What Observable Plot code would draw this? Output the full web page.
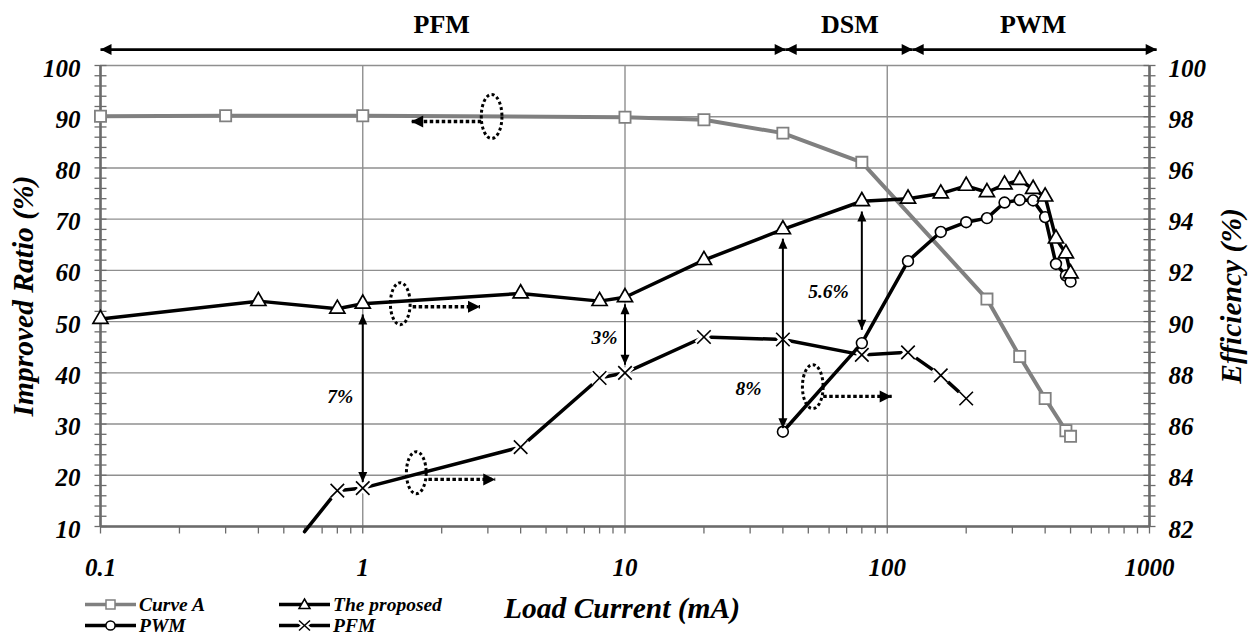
<!DOCTYPE html>
<html><head><meta charset="utf-8">
<script src="https://cdn.jsdelivr.net/npm/d3@7"></script>
<script src="https://cdn.jsdelivr.net/npm/@observablehq/plot@0.6"></script>
<style>
body{margin:0;background:#fff;}
#wrap{position:relative;width:1248px;height:635px;overflow:hidden;}
.lg{position:absolute;display:flex;align-items:center;font-family:"Liberation Serif","DejaVu Serif",serif;font-weight:bold;font-style:italic;font-size:19.5px;line-height:17px;white-space:nowrap;}
.lg svg{margin-right:3px;}
</style></head><body><div id="wrap"></div>
<script>
// ---------- data ----------
const curveA_x     = [0.1, 0.3, 1, 10, 20, 40, 80, 240, 320, 400, 480, 500];
const curveA_ratio = [90.1, 90.2, 90.2, 89.9, 89.4, 86.8, 81.1, 54.4, 43.2, 35.0, 28.7, 27.6];

const proposed_x   = [0.1, 0.4, 0.8, 1, 4, 8, 10, 20, 40, 80, 120, 160, 200, 240, 280, 320, 360, 400, 440, 480, 500];
const proposed_eff = [90.1, 90.8, 90.5, 90.7, 91.1, 90.8, 90.95, 92.4, 93.6, 94.7, 94.8, 95.0, 95.3, 95.05, 95.35, 95.53, 95.18, 94.88, 93.24, 92.66, 91.88];

const pwm_x   = [40, 80, 120, 160, 200, 240, 280, 320, 360, 400, 440, 480, 500];
const pwm_eff = [85.7, 89.16, 92.36, 93.5, 93.88, 94.04, 94.65, 94.75, 94.73, 94.08, 92.25, 91.8, 91.56];

const pfm_x   = [0.6, 0.8, 1, 4, 8, 10, 20, 40, 80, 120, 160, 200];
const pfm_eff = [81.8, 83.4, 83.5, 85.1, 87.8, 88.0, 89.4, 89.3, 88.7, 88.8, 87.9, 87.0];

// axes / ticks
const ratioTicks = [10, 20, 30, 40, 50, 60, 70, 80, 90, 100];
const effTicks   = [82, 84, 86, 88, 90, 92, 94, 96, 98, 100];
const xTickLabels = [0.1, 1, 10, 100, 1000];
const xMinor = [2, 3, 4, 5, 6, 7, 8, 9];

// annotations: operating modes on top
const modeNames = ["PFM", "DSM", "PWM"];
const modeLabelX = [2, 72, 360];
const modeStart = [0.1, 41, 125];
const modeEnd   = [41, 125, 1065];
const modeArrowY = 103.1;
const modeLabelY = 108;

// efficiency gaps (vertical double arrows)
const gapX      = [1, 10, 40, 80];
const gapTop    = [51.4, 53.4, 66.2, 71.5];
const gapBottom = [18.7, 41.6, 29.2, 48.4];
const gapText   = ["7%", "3%", "8%", "5.6%"];
const gapTextX  = [0.82, 8.35, 29.6, 59.7];
const gapTextY  = [35.4, 46.9, 36.9, 55.9];

// dotted ellipses + axis-pointing arrows
const ovalX = [3.1, 1.39, 1.6, 52];
const ovalY = [90.05, 53.5, 20.5, 37.3];
const ovalR = [22, 21, 21, 22];
const hintStart = [2.83, 1.55, 1.78, 57];
const hintEnd   = [1.53, 2.8, 3.2, 104];
const hintY     = [89.07, 52.9, 19.2, 35.4];

// ---------- helpers ----------
const effToRatio = e => 10 + (e - 82) * 5;

const curveA = curveA_x.map((x, i) => ({x, y: curveA_ratio[i]}));
const proposed = proposed_x.map((x, i) => ({x, y: effToRatio(proposed_eff[i])}));
const pwm = pwm_x.map((x, i) => ({x, y: effToRatio(pwm_eff[i])}));
const pfm = pfm_x.map((x, i) => ({x, y: effToRatio(pfm_eff[i])}));
const pfmVisible = pfm.filter(d => d.y >= 10);

const decades = xTickLabels;
const xTicksAll = decades.slice(0, -1).flatMap(d => [d, ...xMinor.map(m => d * m)]).concat([1000]);
const yMinor = d3.range(10, 100.01, 2);
const effTickRows = effTicks.map(e => ({y: effToRatio(e), t: String(e)}));

const modes = modeNames.map((name, i) => ({name, lx: modeLabelX[i], x1: modeStart[i], x2: modeEnd[i]}));
const gaps = gapX.map((x, i) => ({x, y1: gapTop[i], y2: gapBottom[i], t: gapText[i], tx: gapTextX[i], ty: gapTextY[i]}));
const ovals = ovalX.map((x, i) => ({x, y: ovalY[i], r: ovalR[i]}));
const hints = hintStart.map((x1, i) => ({x1, x2: hintEnd[i], y: hintY[i]}));

// custom symbols (tip of arrowheads at the anchor point)
const headSym = (dir, len, half) => ({draw(ctx) {
  const p = {
    right: [[0, 0], [-len, -half], [-len, half]],
    left:  [[0, 0], [len, -half], [len, half]],
    up:    [[0, 0], [-half, len], [half, len]],
    down:  [[0, 0], [-half, -len], [half, -len]]
  }[dir];
  ctx.moveTo(p[0][0], p[0][1]); ctx.lineTo(p[1][0], p[1][1]); ctx.lineTo(p[2][0], p[2][1]); ctx.closePath();
}});
const hTick = (a, b) => ({draw(ctx) { ctx.moveTo(a, 0); ctx.lineTo(b, 0); }});
const vTick = (a, b) => ({draw(ctx) { ctx.moveTo(0, a); ctx.lineTo(0, b); }});
const ovalSymbol = {draw(ctx, size) {
  const ry = Math.sqrt(size / Math.PI), rx = ry * 0.47, k = 0.5523;
  ctx.moveTo(rx, 0);
  ctx.bezierCurveTo(rx, k * ry, k * rx, ry, 0, ry);
  ctx.bezierCurveTo(-k * rx, ry, -rx, k * ry, -rx, 0);
  ctx.bezierCurveTo(-rx, -k * ry, -k * rx, -ry, 0, -ry);
  ctx.bezierCurveTo(k * rx, -ry, rx, -k * ry, rx, 0);
  ctx.closePath();
}};

const GRID = "#8f8f8f", AXIS = "#6b6b6b", GRAY = "#808080";
const X0 = 0.1, X1 = 1000, Y0 = 10;
const FONT = "'Liberation Serif','DejaVu Serif',serif";

const chart = Plot.plot({
  width: 1248, height: 635,
  marginLeft: 100, marginRight: 99, marginTop: 65, marginBottom: 109,
  x: {type: "log", domain: [X0, X1], axis: null},
  y: {domain: [10, 100], axis: null},
  r: {type: "identity"},
  style: {fontFamily: FONT, fontSize: "25px", fontWeight: "bold", fontStyle: "italic", color: "black", background: "white", overflow: "visible"},
  marks: [
    // grid
    Plot.ruleY(ratioTicks, {y: d => d, stroke: GRID, strokeWidth: 1.4}),
    Plot.ruleX(decades, {x: d => d, stroke: GRID, strokeWidth: 1.4}),
    // axis lines
    Plot.ruleX([X0, X1], {x: d => d, stroke: AXIS, strokeWidth: 2.6}),
    Plot.ruleY([Y0], {y: d => d, stroke: AXIS, strokeWidth: 2.6}),
    // tick marks
    Plot.dot(yMinor, {x: () => X0, y: d => d, symbol: hTick(-6, 6), r: 1, stroke: AXIS, strokeWidth: 1.3, fill: "none"}),
    Plot.dot(yMinor, {x: () => X1, y: d => d, symbol: hTick(-6, 6), r: 1, stroke: AXIS, strokeWidth: 1.3, fill: "none"}),
    Plot.dot(xTicksAll, {x: d => d, y: () => Y0, symbol: vTick(0, 7), r: 1, stroke: AXIS, strokeWidth: 1.3, fill: "none"}),
    // tick labels
    Plot.text(ratioTicks, {x: () => X0, y: d => d, text: d => String(d), dx: -20, dy: 3, textAnchor: "end", fontFamily: FONT}),
    Plot.text(effTickRows, {x: () => X1, y: "y", text: "t", dx: 19, dy: 3, textAnchor: "start", fontFamily: FONT}),
    Plot.text(xTickLabels, {x: d => d, y: () => Y0, text: d => String(d), dy: 41, fontFamily: FONT}),
    // axis titles
    Plot.text(["Improved Ratio (%)"], {frameAnchor: "left", dx: -77, rotate: -90, textAnchor: "middle", fontSize: 29.5, fontFamily: FONT}),
    Plot.text(["Efficiency (%)"], {frameAnchor: "right", dx: 82, rotate: -90, textAnchor: "middle", fontSize: 29.5, fontFamily: FONT}),
    Plot.text(["Load Current (mA)"], {frameAnchor: "bottom", dy: 91, dx: -3, textAnchor: "middle", fontSize: 29.5, fontFamily: FONT}),

    // Curve A
    Plot.line(curveA, {x: "x", y: "y", stroke: GRAY, strokeWidth: 4}),
    Plot.dot(curveA, {x: "x", y: "y", symbol: "square", r: 6.3, fill: "white", stroke: GRAY, strokeWidth: 1.8}),
    // PFM
    Plot.line(pfm, {x: "x", y: "y", stroke: "black", strokeWidth: 3.5}),
    Plot.dot(pfmVisible, {x: "x", y: "y", symbol: "times", r: 6.2, stroke: "white", strokeWidth: 7}),
    Plot.dot(pfmVisible, {x: "x", y: "y", symbol: "times", r: 6.2, stroke: "black", strokeWidth: 1.6}),
    // PWM
    Plot.line(pwm, {x: "x", y: "y", stroke: "black", strokeWidth: 3.5}),
    Plot.dot(pwm, {x: "x", y: "y", r: 5.4, fill: "white", stroke: "black", strokeWidth: 1.6}),
    // The proposed
    Plot.line(proposed, {x: "x", y: "y", stroke: "black", strokeWidth: 3.5}),
    Plot.dot(proposed, {x: "x", y: "y", symbol: "triangle", r: 5.6, fill: "white", stroke: "black", strokeWidth: 1.7}),

    // mode arrows on top
    Plot.link(modes, {x1: "x1", x2: "x2", y1: () => modeArrowY, y2: () => modeArrowY, stroke: "black", strokeWidth: 2.6}),
    Plot.dot(modes, {x: "x1", y: () => modeArrowY, symbol: headSym("left", 11, 5.5), r: 5, fill: "black", stroke: "none"}),
    Plot.dot(modes, {x: "x2", y: () => modeArrowY, symbol: headSym("right", 11, 5.5), r: 5, fill: "black", stroke: "none"}),
    Plot.text(modes, {x: "lx", y: () => modeLabelY, text: "name", fontSize: 26, fontStyle: "normal", fontWeight: "bold", fontFamily: FONT}),

    // efficiency gap arrows
    Plot.link(gaps, {x1: "x", x2: "x", y1: "y1", y2: "y2", stroke: "black", strokeWidth: 2}),
    Plot.dot(gaps, {x: "x", y: "y1", symbol: headSym("up", 10, 4.5), r: 5, fill: "black", stroke: "none"}),
    Plot.dot(gaps, {x: "x", y: "y2", symbol: headSym("down", 10, 4.5), r: 5, fill: "black", stroke: "none"}),
    Plot.text(gaps, {x: "tx", y: "ty", text: "t", fontSize: 19.5, fontFamily: FONT}),

    // dotted ellipses and hint arrows
    Plot.dot(ovals, {x: "x", y: "y", r: "r", symbol: ovalSymbol, fill: "none", stroke: "black", strokeWidth: 3, strokeDasharray: "3,2.6"}),
    Plot.link(hints, {x1: "x1", x2: "x2", y1: "y", y2: "y", stroke: "black", strokeWidth: 3.4, strokeDasharray: "3.5,2.5"}),
    Plot.dot(hints.filter(h => h.x2 > h.x1), {x: "x2", y: "y", symbol: headSym("right", 12, 6), r: 5, fill: "black", stroke: "none"}),
    Plot.dot(hints.filter(h => h.x2 < h.x1), {x: "x2", y: "y", symbol: headSym("left", 12, 6), r: 5, fill: "black", stroke: "none"})
  ]
});
chart.style.position = "absolute";
chart.style.left = "0px";
chart.style.top = "0px";
const wrap = document.getElementById("wrap");
wrap.appendChild(chart);

// ---------- legend ----------
const legendItems = [
  {label: "Curve A", color: GRAY, marker: "square", left: 85, top: 604},
  {label: "The proposed", color: "black", marker: "triangle", left: 279, top: 604},
  {label: "PWM", color: "black", marker: "circle", left: 85, top: 625},
  {label: "PFM", color: "black", marker: "times", left: 279, top: 625}
];
function sample(color, marker) {
  let m = "";
  if (marker === "square") m = `<rect x="21" y="4" width="9" height="9" fill="white" stroke="${color}" stroke-width="1.5"/>`;
  if (marker === "triangle") m = `<path d="M25.5,3 L31,12.5 L20,12.5 Z" fill="white" stroke="${color}" stroke-width="1.5"/>`;
  if (marker === "circle") m = `<circle cx="25.5" cy="8.5" r="4.6" fill="white" stroke="${color}" stroke-width="1.5"/>`;
  if (marker === "times") m = `<path d="M19,3 L32,14 M32,3 L19,14" stroke="white" stroke-width="5"/><path d="M20,3.5 L31,13.5 M31,3.5 L20,13.5" stroke="${color}" stroke-width="1.5"/>`;
  return `<svg width="51" height="17" viewBox="0 0 51 17"><line x1="0" y1="8.5" x2="51" y2="8.5" stroke="${color}" stroke-width="3.6"/>${m}</svg>`;
}
for (const it of legendItems) {
  const d = document.createElement("div");
  d.className = "lg";
  d.style.left = it.left + "px";
  d.style.top = (it.top - 8.5) + "px";
  d.innerHTML = sample(it.color, it.marker) + `<span>${it.label}</span>`;
  wrap.appendChild(d);
}
</script></body></html>
